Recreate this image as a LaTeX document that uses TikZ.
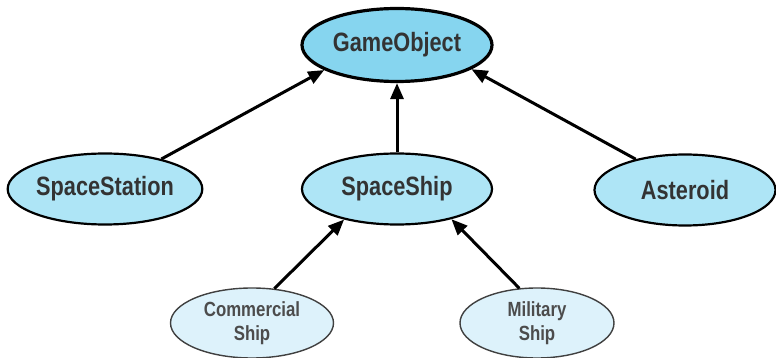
\documentclass[tikz,border=0pt]{standalone}
\usepackage{fontspec}
\setsansfont[FakeStretch=0.82]{Liberation Sans}
\usetikzlibrary{positioning}
\usetikzlibrary{shapes.geometric}
\usetikzlibrary{arrows.meta}

\definecolor{rootblue}{HTML}{86D5EF}
\definecolor{midblue}{HTML}{AEE5F6}
\definecolor{leafblue}{HTML}{DDF2FB}

\begin{document}
\begin{tikzpicture}[
		x=1pt, y=-1pt,
		cls/.style={
			ellipse,
			draw=black,
			inner sep=0pt,
			align=center,
			text=black!80,
			font=\sffamily\bfseries\fontsize{26.5}{28}\selectfont},
		cls_root/.style={
			cls,
			fill=rootblue,
			line width=3.2pt,
			minimum width=190pt,
			minimum height=73pt},
		cls_mid/.style={
			cls,
			fill=midblue,
			line width=2.2pt,
			minimum height=71pt},
		cls_leaf/.style={
			cls,
			fill=leafblue,
			draw=black!75,
			line width=1.4pt,
			minimum height=70pt,
			text=black!70,
			font=\sffamily\bfseries\fontsize{20.5}{24}\selectfont},
		inherit/.style={
			line width=3pt,
			-{Triangle[length=16pt,width=13pt]}},
		]

		\useasboundingbox (0,0) rectangle (776,358);

		%Base class
		\node (gameobj)[cls_root] at (397,45) {GameObject};

		%Derived classes
		\node (station)[cls_mid, minimum width=193pt] at (105,189) {SpaceStation};
		\node (ship)[cls_mid, minimum width=190pt] at (397,189) {SpaceShip};
		\node (asteroid)[cls_mid, minimum width=181pt] at (685,190) {Asteroid};

		%Ship kinds
		\node (commercial)[cls_leaf, minimum width=163pt] at (252,323) {Commercial\\Ship};
		\node (military)[cls_leaf, minimum width=154pt] at (537,323) {Military\\Ship};

		%Inheritance arrows
		\draw[inherit] (station.28) -- (gameobj.199);
		\draw[inherit] (ship.north) -- (gameobj.south);
		\draw[inherit] (asteroid.148) -- (gameobj.342);
		\draw[inherit] (commercial.57) -- (ship.210);
		\draw[inherit] (military.117) -- (ship.331);

	\end{tikzpicture}
\end{document}
